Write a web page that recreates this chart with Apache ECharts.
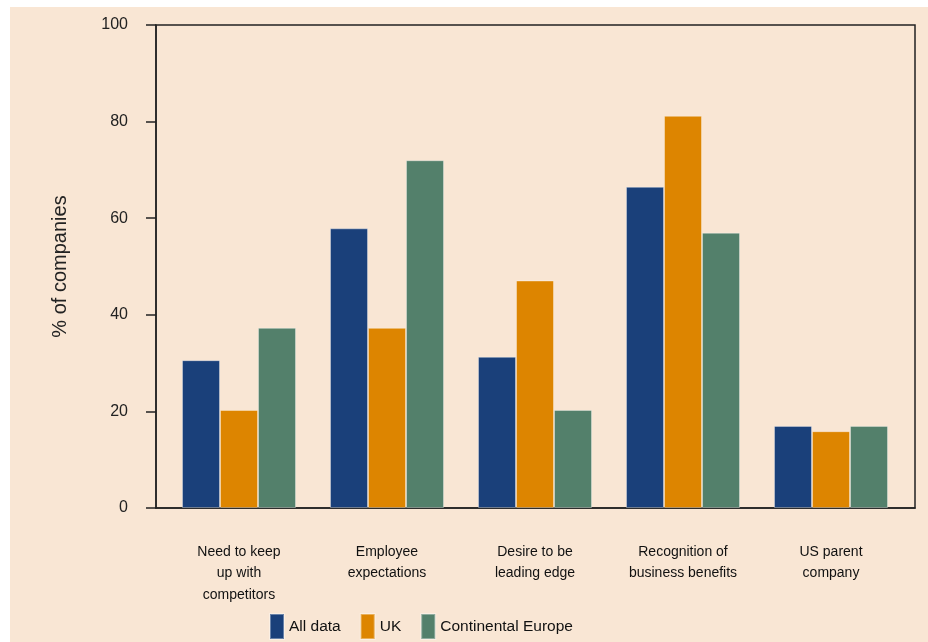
<!DOCTYPE html>
<html>
<head>
<meta charset="utf-8">
<script src="https://cdn.jsdelivr.net/npm/echarts@6/dist/echarts.min.js"></script>
<style>
  html, body { margin: 0; padding: 0; background: #ffffff; }
  #wrap { position: relative; width: 928px; height: 642px; }
  #panel { position: absolute; left: 10px; top: 7px; right: 0; bottom: 0; background: #f9e6d4; }
  #chart { position: absolute; left: 0; top: 0; width: 928px; height: 642px; }
</style>
</head>
<body>
<div id="wrap">
  <div id="panel"></div>
  <div id="chart"></div>
</div>
<script>
// Reasons for adopting flexible working, share of companies (%)
const categories = [
  'Need to keep\nup with\ncompetitors',
  'Employee\nexpectations',
  'Desire to be\nleading edge',
  'Recognition of\nbusiness benefits',
  'US parent\ncompany'
];
const allData = [30.6, 57.9, 31.3, 66.5, 17.0];
const ukData = [20.3, 37.3, 47.1, 81.2, 15.9];
const europeData = [37.3, 72.0, 20.3, 57.0, 17.0];
const yTicks = { min: 0, max: 100, interval: 20 };

const font = "'Liberation Sans', Arial, sans-serif";
const ink = '#222222';

const barStyle = (color) => ({
  color: color,
  borderColor: 'rgba(255,255,255,0.35)',
  borderWidth: 1
});

const chart = echarts.init(document.getElementById('chart'), null, { renderer: 'canvas' });
chart.setOption({
  backgroundColor: 'transparent',
  animation: false,
  textStyle: { fontFamily: font },
  grid: [
    // framed plot area carrying the value scale
    { left: 156, top: 25, width: 759, height: 483, show: true,
      borderColor: ink, borderWidth: 1.5, backgroundColor: 'transparent' },
    // inner area holding the grouped bars
    { left: 165, top: 25, width: 740, height: 483 }
  ],
  xAxis: [
    { gridIndex: 0, type: 'value', min: 0, max: 1,
      axisLine: { show: true, onZero: false, lineStyle: { color: ink, width: 1.5 } },
      axisTick: { show: false }, axisLabel: { show: false }, splitLine: { show: false } },
    { gridIndex: 1, type: 'category', data: categories,
      axisLine: { show: false }, axisTick: { show: false },
      axisLabel: { margin: 33, fontFamily: font, fontSize: 14, lineHeight: 21.5,
        color: '#111111', interval: 0, align: 'center' } }
  ],
  yAxis: [
    { gridIndex: 0, type: 'value', min: yTicks.min, max: yTicks.max, interval: yTicks.interval,
      name: '% of companies', nameLocation: 'middle', nameGap: 86,
      nameTextStyle: { fontFamily: font, fontSize: 20, color: ink },
      axisLine: { show: true, lineStyle: { color: ink, width: 1.5 } },
      axisTick: { show: true, length: 10, inside: false, lineStyle: { color: ink, width: 1.5 } },
      axisLabel: { margin: 28, fontSize: 16, color: ink, fontFamily: font },
      splitLine: { show: false } },
    { gridIndex: 1, type: 'value', min: yTicks.min, max: yTicks.max, show: false }
  ],
  legend: {
    left: 264, top: 608, itemWidth: 14, itemHeight: 25, itemGap: 19,
    icon: 'rect',
    textStyle: { fontFamily: font, fontSize: 15.5, color: '#111111' },
    data: ['All data', 'UK', 'Continental Europe']
  },
  series: [
    { name: 'All data', type: 'bar', xAxisIndex: 1, yAxisIndex: 1, data: allData,
      barWidth: 38, barGap: '0%', itemStyle: barStyle('#1a407a') },
    { name: 'UK', type: 'bar', xAxisIndex: 1, yAxisIndex: 1, data: ukData,
      barWidth: 38, barGap: '0%', itemStyle: barStyle('#dd8500') },
    { name: 'Continental Europe', type: 'bar', xAxisIndex: 1, yAxisIndex: 1, data: europeData,
      barWidth: 38, barGap: '0%', itemStyle: barStyle('#53806b') }
  ]
});
</script>
</body>
</html>
